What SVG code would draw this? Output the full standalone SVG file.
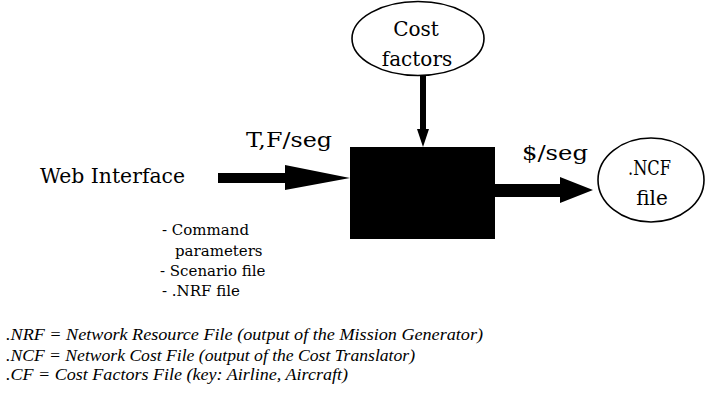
<svg xmlns="http://www.w3.org/2000/svg" width="705" height="396" viewBox="0 0 705 396">
<style>
text{font-family:"DejaVu Serif","Liberation Serif",serif;fill:#000}
.lbl{font-size:20px}
.lst{font-size:15px}
.fn{font-family:"Liberation Serif","DejaVu Serif",serif;font-size:16px;font-style:italic}
.ell{fill:#fff;stroke:#000;stroke-width:1.6}
</style>
<rect width="705" height="396" fill="#fff"/>
<g id="connectors">
<polygon points="420,76 426,76 426,129 429,129 423,147 417,129 420,129" fill="#000"/>
<polygon points="218,173 285,173 285,165 350,178 285,190 285,183 218,183" fill="#000"/>
<polygon points="495,184 560,184 560,177 593,190 560,203 560,197 495,197" fill="#000"/>
<text class="lbl" x="246" y="147" textLength="86" lengthAdjust="spacingAndGlyphs">T,F/seg</text>
<text class="lbl" x="522" y="160" textLength="66" lengthAdjust="spacingAndGlyphs">$/seg</text>
</g>
<g id="cost-factors">
<ellipse class="ell" cx="418" cy="38.5" rx="66" ry="37"/>
<text class="lbl" x="416" y="36" text-anchor="middle">Cost</text>
<text class="lbl" x="417" y="66" text-anchor="middle">factors</text>
</g>
<g id="web-interface">
<text class="lbl" x="40" y="183" textLength="145" lengthAdjust="spacingAndGlyphs">Web Interface</text>
</g>
<g id="translator">
<rect x="350" y="147" width="145" height="92" fill="#000"/>
</g>
<g id="ncf-file">
<ellipse class="ell" cx="651" cy="180" rx="53" ry="42"/>
<text class="lbl" x="628" y="175" textLength="43" lengthAdjust="spacingAndGlyphs">.NCF</text>
<text class="lbl" x="652" y="205" text-anchor="middle">file</text>
</g>
<g id="inputs">
<text class="lst" x="162" y="235">- Command</text>
<text class="lst" x="175" y="256">parameters</text>
<text class="lst" x="160" y="276">- Scenario file</text>
<text class="lst" x="162" y="296">- .NRF file</text>
</g>
<g id="legend">
<text class="fn" x="6" y="340" textLength="477" lengthAdjust="spacingAndGlyphs">.NRF = Network Resource File (output of the Mission Generator)</text>
<text class="fn" x="6" y="361" textLength="409" lengthAdjust="spacingAndGlyphs">.NCF = Network Cost File (output of the Cost Translator)</text>
<text class="fn" x="6" y="380" textLength="342" lengthAdjust="spacingAndGlyphs">.CF = Cost Factors File (key: Airline, Aircraft)</text>
</g>
</svg>
